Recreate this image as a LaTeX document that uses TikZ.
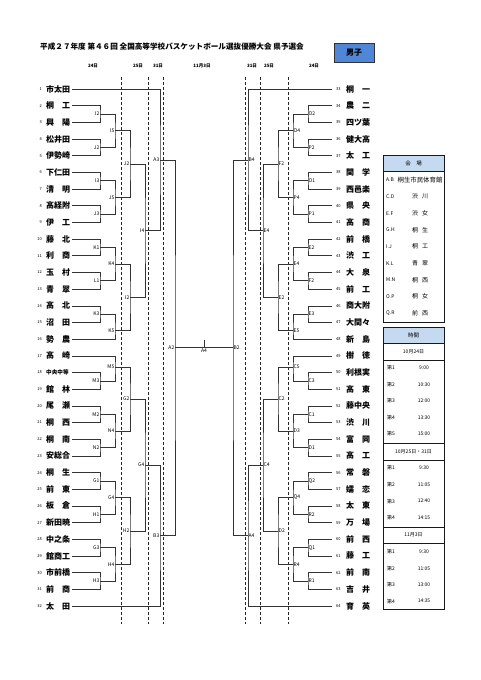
\documentclass[tikz,border=0pt]{standalone}
\usepackage{fontspec}
\setmainfont{Noto Sans CJK JP}
\usetikzlibrary{calc}
\definecolor{boyblue}{HTML}{4F86D6}
\definecolor{hdrblue}{HTML}{C5D9F1}
\newcommand\ML[6]{%
  \coordinate (tmp) at ($(#3)!#5!(#4)$);
  \path let \p1=(tmp) in coordinate (#1) at (#2,\y1);
  \draw[ln] (#3) -| (#1) |- (#4);
  \node[lblL] (#1-t) at ([xshift=-0.2pt]#1) {#6};
}
\newcommand\MR[6]{%
  \coordinate (tmp) at ($(#3)!#5!(#4)$);
  \path let \p1=(tmp) in coordinate (#1) at (#2,\y1);
  \draw[ln] (#3) -| (#1) |- (#4);
  \node[lblR] (#1-t) at ([xshift=0.2pt]#1) {#6};
}
\begin{document}
\begin{tikzpicture}[x=1pt,y=-1pt,
  ln/.style={line width=0.6pt, draw=black!80},
  dsh/.style={line width=0.8pt, densely dashed, draw=black!85},
  tname/.style={anchor=west, inner sep=0pt, font=\fontsize{8}{8}\selectfont\bfseries},
  tnum/.style={inner sep=0pt, font=\fontsize{4}{4}\selectfont},
  lblL/.style={anchor=east, inner sep=0.3pt, font=\fontsize{5}{5}\selectfont},
  lblR/.style={anchor=west, inner sep=0.3pt, font=\fontsize{5}{5}\selectfont},
  hdr/.style={inner sep=0pt, font=\fontsize{4.5}{4.5}\selectfont\bfseries},
  tbl/.style={line width=0.9pt, draw=black!90},
  tsm/.style={inner sep=0pt, font=\fontsize{5}{5}\selectfont},
  tvn/.style={inner sep=0pt, font=\fontsize{6}{6}\selectfont}]
\useasboundingbox (0,0) rectangle (481,680);
% title
\node[anchor=west, inner sep=0pt, font=\fontsize{7.6}{8}\selectfont\bfseries] (title) at (40,47)
  {平成２７年度 第４６回 全国高等学校バスケットボール選抜優勝大会 県予選会};
\node[draw=black!80, line width=0.8pt, fill=boyblue, minimum width=40pt, minimum height=19pt,
  inner sep=0pt, font=\fontsize{8}{8}\selectfont\bfseries] (boys) at (354,52.5) {男子};
% date headers
\node[hdr] (h1) at (93,66) {24日};
\node[hdr] (h2) at (138,66) {25日};
\node[hdr] (h3) at (158,66) {31日};
\node[hdr] (h4) at (202,66) {11月3日};
\node[hdr] (h5) at (252,66) {31日};
\node[hdr] (h6) at (269,66) {25日};
\node[hdr] (h7) at (314,66) {24日};
% dashed day lines
\foreach \dx in {121,148,163,245,260,288}
  \draw[dsh] (\dx,77) -- (\dx,624);
% left teams
\foreach \tn [count=\i] in {市太田,桐　工,興　陽,松井田,伊勢崎,下仁田,清　明,高経附,伊　工,藤　北,利　商,玉　村,青　翠,高　北,沼　田,勢　農,高　崎,{\fontsize{5.6}{6}\selectfont 中央中等},館　林,尾　瀬,桐　西,桐　南,安総合,桐　生,前　東,板　倉,新田暁,中之条,館商工,市前橋,前　商,太　田}{
  \node[tnum, anchor=east] (nL\i) at (42,{89+(\i-1)*16.677}) {\i};
  \node[tname] (tL\i) at (46,{89+(\i-1)*16.677}) {\tn};
  \coordinate (L\i) at (72,{89+(\i-1)*16.677});
}
% right teams
\foreach \tn [count=\j from 33] in {桐　一,農　二,四ツ葉,健大高,太　工,関　学,西邑楽,県　央,高　商,前　橋,渋　工,大　泉,前　工,商大附,大間々,新　島,樹　徳,利根実,高　東,藤中央,渋　川,富　岡,高　工,常　磐,嬬　恋,太　東,万　場,前　西,藤　工,前　南,吉　井,育　英}{
  \node[tnum, anchor=west] (nR\j) at (336,{89+(\j-33)*16.677}) {\j};
  \node[tname] (tR\j) at (346,{89+(\j-33)*16.677}) {\tn};
  \coordinate (R\j) at (332,{89+(\j-33)*16.677});
}
% left bracket
\ML{lI2a}{100}{L2}{L3}{.5}{I2}
\ML{lJ2a}{100}{L4}{L5}{.5}{J2}
\ML{lI3}{100}{L6}{L7}{.5}{I3}
\ML{lJ3}{100}{L8}{L9}{.5}{J3}
\ML{lK1}{100}{L10}{L11}{.5}{K1}
\ML{lL1}{100}{L12}{L13}{.5}{L1}
\ML{lK3}{100}{L14}{L15}{.5}{K3}
\ML{lM3}{100}{L18}{L19}{.5}{M3}
\ML{lM2}{100}{L20}{L21}{.5}{M2}
\ML{lN2}{100}{L22}{L23}{.5}{N2}
\ML{lG1}{100}{L24}{L25}{.5}{G1}
\ML{lH1}{100}{L26}{L27}{.5}{H1}
\ML{lG3}{100}{L28}{L29}{.5}{G3}
\ML{lH3}{100}{L30}{L31}{.5}{H3}
\ML{lI5}{115}{lI2a}{lJ2a}{.5}{I5}
\ML{lJ5}{115}{lI3}{lJ3}{.5}{J5}
\ML{lK4}{115}{lK1}{lL1}{.5}{K4}
\ML{lK5}{115}{lK3}{L16}{.65}{K5}
\ML{lM5}{115}{L17}{lM3}{.45}{M5}
\ML{lN4}{115}{lM2}{lN2}{.5}{N4}
\ML{lG4a}{115}{lG1}{lH1}{.5}{G4}
\ML{lH4}{115}{lG3}{lH3}{.5}{H4}
\ML{lJ2b}{130}{lI5}{lJ5}{.5}{J2}
\ML{lI2b}{130}{lK4}{lK5}{.5}{I2}
\ML{lG2}{130}{lM5}{lN4}{.5}{G2}
\ML{lH2}{130}{lG4a}{lH4}{.5}{H2}
\ML{lI4}{145}{lJ2b}{lI2b}{.5}{I4}
\ML{lG4b}{145}{lG2}{lH2}{.5}{G4}
\ML{lA3}{160}{L1}{lI4}{.5}{A3}
\ML{lB3}{160}{lG4b}{L32}{.5}{B3}
\ML{lA2}{175}{lA3}{lB3}{.5}{A2}
% right bracket
\MR{rO2}{308}{R34}{R35}{.5}{O2}
\MR{rP2a}{308}{R36}{R37}{.5}{P2}
\MR{rO1}{308}{R38}{R39}{.5}{O1}
\MR{rP1}{308}{R40}{R41}{.5}{P1}
\MR{rE2a}{308}{R42}{R43}{.5}{E2}
\MR{rF2a}{308}{R44}{R45}{.5}{F2}
\MR{rE3}{308}{R46}{R47}{.5}{E3}
\MR{rC3}{308}{R50}{R51}{.5}{C3}
\MR{rC1}{308}{R52}{R53}{.5}{C1}
\MR{rD1}{308}{R54}{R55}{.5}{D1}
\MR{rQ2}{308}{R56}{R57}{.5}{Q2}
\MR{rR2}{308}{R58}{R59}{.5}{R2}
\MR{rQ1}{308}{R60}{R61}{.5}{Q1}
\MR{rR1}{308}{R62}{R63}{.5}{R1}
\MR{rO4}{293}{rO2}{rP2a}{.5}{O4}
\MR{rP4}{293}{rO1}{rP1}{.5}{P4}
\MR{rE4a}{293}{rE2a}{rF2a}{.5}{E4}
\MR{rE5}{293}{rE3}{R48}{.65}{E5}
\MR{rC5}{293}{R49}{rC3}{.45}{C5}
\MR{rD3}{293}{rC1}{rD1}{.5}{D3}
\MR{rQ4}{293}{rQ2}{rR2}{.5}{Q4}
\MR{rR4}{293}{rQ1}{rR1}{.5}{R4}
\MR{rF2b}{278}{rO4}{rP4}{.5}{F2}
\MR{rE2b}{278}{rE4a}{rE5}{.5}{E2}
\MR{rC2}{278}{rC5}{rD3}{.5}{C2}
\MR{rD2}{278}{rQ4}{rR4}{.5}{D2}
\MR{rE4b}{263}{rF2b}{rE2b}{.5}{E4}
\MR{rC4}{263}{rC2}{rD2}{.5}{C4}
\MR{rB4}{248}{R33}{rE4b}{.5}{B4}
\MR{rA4}{248}{rC4}{R64}{.5}{A4}
\MR{rB2}{233}{rB4}{rA4}{.5}{B2}
% final
\draw[ln] (lA2) -- (rB2);
\coordinate (fin) at ($(lA2)!.5!(rB2)$);
\coordinate (fintop) at ([yshift=8pt]fin);
\draw[ln] (fin) -- (fintop);
\node[anchor=north, inner sep=0.5pt, font=\fontsize{5}{5}\selectfont] (finl) at ([yshift=-0.5pt]fin) {A4};
% venue table
\fill[hdrblue] (383,155) rectangle (444,171);
\draw[tbl] (383,155) rectangle (444,322);
\draw[tbl] (383,171) -- (444,171);
\node[tsm, font=\fontsize{5.5}{5.5}\selectfont] (vh) at (413.5,163) {会　場};
\node[tsm, anchor=west] (vc1) at (386,180) {A.B};
\node[inner sep=0pt, font=\fontsize{6.4}{6.4}\selectfont] (vn1) at (420,180) {桐生市民体育館};
\foreach \c/\v [count=\i from 2] in {C.D/渋\hspace{4pt}川,E.F/渋\hspace{4pt}女,G.H/桐\hspace{4pt}生,I.J/桐\hspace{4pt}工,K.L/青\hspace{4pt}翠,M.N/桐\hspace{4pt}西,O.P/桐\hspace{4pt}女,Q.R/前\hspace{4pt}西}{
  \node[tsm, anchor=west] (vc\i) at (386,{180+(\i-1)*16.65}) {\c};
  \node[tvn] (vn\i) at (420,{180+(\i-1)*16.65}) {\v};
}
% time table
\fill[hdrblue] (383,327) rectangle (444,343);
\draw[tbl] (383,327) rectangle (444,609);
\foreach \ly in {343,360,443,460,527,543}
  \draw[tbl] (383,\ly) -- (444,\ly);
\node[tsm, font=\fontsize{5.5}{5.5}\selectfont] (th) at (413.5,335) {時間};
\node[tsm] (td1) at (413.5,351.5) {10月24日};
\node[tsm] (td2) at (413.5,451.5) {10月25日・31日};
\node[tsm] (td3) at (413.5,535) {11月3日};
\foreach \tt [count=\i] in {9:00,10:30,12:00,13:30,15:00}{
  \node[tsm, anchor=west] (ta\i) at (387,{368+(\i-1)*16.5}) {第\i};
  \node[tsm] (tat\i) at (424,{368+(\i-1)*16.5}) {\tt};
}
\foreach \tt [count=\i] in {9:30,11:05,12:40,14:15}{
  \node[tsm, anchor=west] (tb\i) at (387,{468+(\i-1)*16.6}) {第\i};
  \node[tsm] (tbt\i) at (424,{468+(\i-1)*16.6}) {\tt};
}
\foreach \tt [count=\i] in {9:30,11:05,13:00,14:35}{
  \node[tsm, anchor=west] (tc\i) at (387,{552+(\i-1)*16.4}) {第\i};
  \node[tsm] (tct\i) at (424,{552+(\i-1)*16.4}) {\tt};
}
\end{tikzpicture}
\end{document}
